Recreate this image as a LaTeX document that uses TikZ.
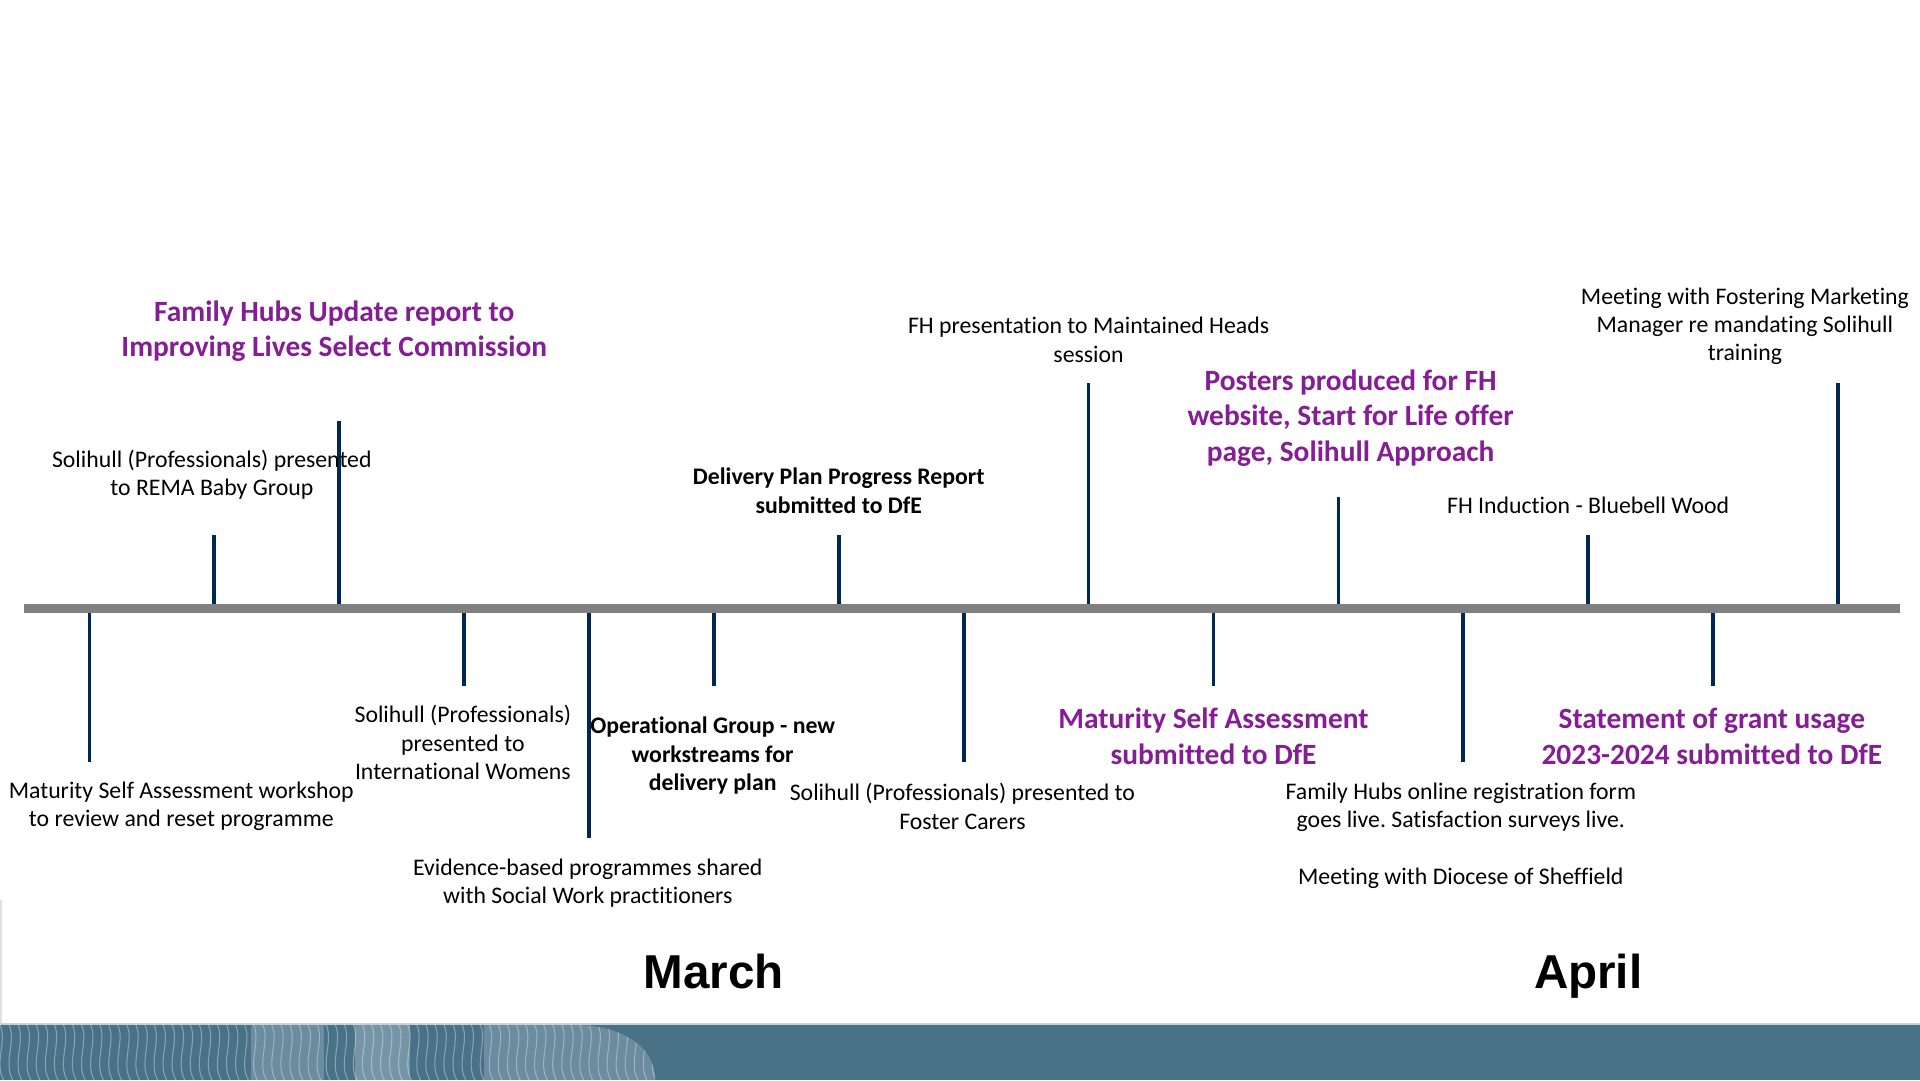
\documentclass[tikz,border=0pt]{standalone}
\usepackage{fontspec}
\setmainfont{Carlito}[Ligatures={NoCommon}]
\newfontfamily\arialfont{Liberation Sans}
\definecolor{tlpurple}{RGB}{134,28,150}
\definecolor{tlnavy}{RGB}{0,40,85}
\definecolor{tlaxis}{RGB}{128,128,128}
\definecolor{tlbanner}{RGB}{74,114,135}
\definecolor{tlbandlight}{RGB}{170,192,206}
\begin{document}
\frenchspacing
\begin{tikzpicture}[x=0.6pt,y=-0.6pt,
  tick/.style={draw=tlnavy,line width=1.8pt},
  axisline/.style={draw=tlaxis,line width=4.2pt},
  evtext/.style={align=center,inner sep=0pt,font=\fontsize{11.65}{13.9}\selectfont,text=black},
  evbold/.style={align=center,inner sep=0pt,font=\fontsize{11.65}{14.1}\selectfont\bfseries,text=black},
  evpurple/.style={align=center,inner sep=0pt,font=\fontsize{14.4}{17.4}\selectfont\bfseries,text=tlpurple},
  month/.style={inner sep=0pt,anchor=base,font=\arialfont\fontsize{23.3}{28}\selectfont\bfseries,text=black}]
\useasboundingbox (0,0) rectangle (1568,882);
\fill[white] (0,0) rectangle (1568,882);

% ticks
\foreach \i/\x/\e in {1/73/622,2/175/437,3/277/344,4/379/560,5/481/684,6/583/560,7/685/437,8/787/622,9/889/313,10/991/560,11/1093/406,12/1195/622,13/1297/437,14/1399/560,15/1501/313}{
  \coordinate (a\i) at (\x,497);
  \coordinate (t\i) at (\x,\e);
  \draw[tick] (a\i) -- (t\i);
}
% axis
\coordinate (axL) at (20,497);
\coordinate (axR) at (1552,497);
\draw[axisline] (axL) -- (axR);

% labels above
\node[evpurple] (l1) at (273,270.5) {Family Hubs Update report to\\Improving Lives Select Commission};
\node[evtext] (l2) at (173,387.5) {Solihull (Professionals) presented\\to REMA Baby Group};
\node[evbold] (l3) at (685,401) {Delivery Plan Progress Report\\submitted to DfE};
\node[evtext] (l4) at (889,277.5) {FH presentation to Maintained Heads\\session};
\node[evpurple] (l5) at (1103,341.5) {Posters produced for FH\\website, Start for Life offer\\page, Solihull Approach};
\node[evtext] (l6) at (1297,413) {FH Induction - Bluebell Wood};
\node[evtext] (l7) at (1425,266.5) {Meeting with Fostering Marketing\\Manager re mandating Solihull\\training};

% labels below
\node[evtext] (l8) at (148,658.5) {Maturity Self Assessment workshop\\to review and reset programme};
\node[evtext] (l9) at (378,606.5) {Solihull (Professionals)\\presented to\\International Womens};
\node[evtext] (l10) at (480,721) {Evidence-based programmes shared\\with Social Work practitioners};
\node[evbold] (l11) at (582,617) {Operational Group - new\\workstreams for\\delivery plan};
\node[evtext] (l12) at (786,658.5) {Solihull (Professionals) presented to\\Foster Carers};
\node[evpurple] (l13) at (991,601.5) {Maturity Self Assessment\\submitted to DfE};
\node[evtext] (l14) at (1193,682.5) {Family Hubs online registration form\\goes live. Satisfaction surveys live.\\[\baselineskip]Meeting with Diocese of Sheffield};
\node[evpurple] (l15) at (1398,601.5) {Statement of grant usage\\2023-2024 submitted to DfE};

% months
\node[month] (march) at (583,807) {March};
\node[month] (april) at (1297,807) {April};

% faint left edge line
\draw[black!12,line width=0.8pt] (1,735) -- (1,836);

% bottom banner
\fill[tlbanner] (0,836) rectangle (1568,882);
\draw[tlbandlight!70!white,line width=0.8pt] (0,836.5) -- (1568,836.5);
\begin{scope}
  \clip (0,837) -- (470,837) .. controls (500,837) and (535,850) .. (535,882) -- (0,882) -- cycle;
  \fill[tlbandlight,opacity=0.35] (205,837) rectangle (265,882);
  \fill[tlbandlight,opacity=0.45] (290,837) rectangle (335,882);
  \fill[tlbandlight,opacity=0.35] (395,837) rectangle (540,882);
  \foreach \k in {0,...,72}{
    \draw[white,opacity=0.35,line width=0.5pt] (\k*7.4,837) .. controls (\k*7.4+6,850) and (\k*7.4-5,868) .. (\k*7.4+3,882);
  }
\end{scope}
\end{tikzpicture}
\end{document}
